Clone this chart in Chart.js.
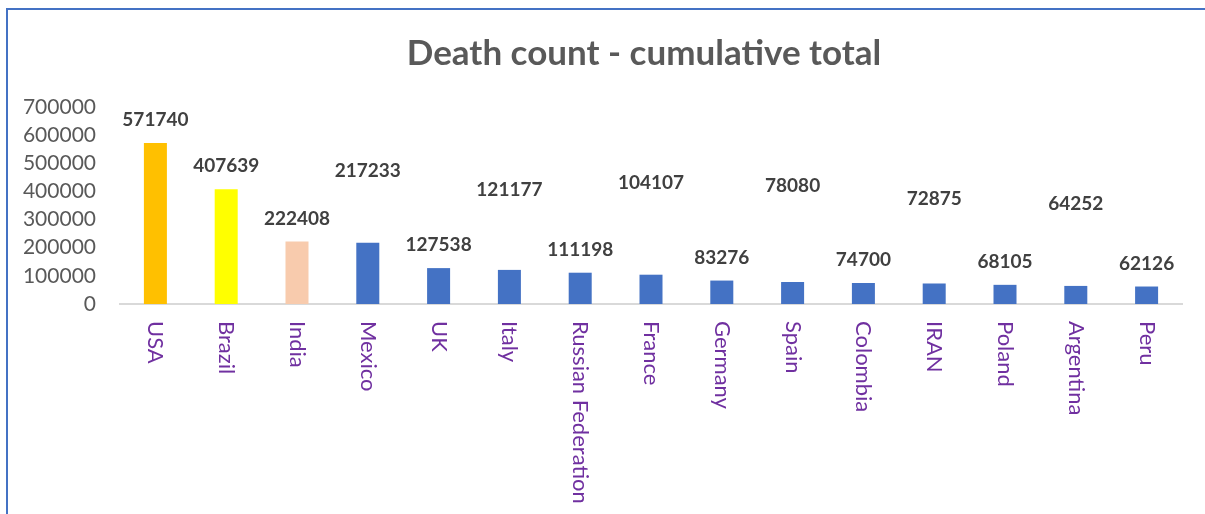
<!DOCTYPE html>
<html>
<head>
<meta charset="utf-8">
<script src="https://cdn.jsdelivr.net/npm/chart.js@4"></script>
<style>
  html, body { margin: 0; padding: 0; background: #fff; overflow: hidden; }
  #wrap { position: relative; width: 1205px; height: 514px; }
  #frame { position: absolute; left: 6px; top: 8px; width: 1300px; height: 600px;
           border-left: 2px solid #4472C4; border-top: 2px solid #4472C4; }
  canvas { position: absolute; left: 0; top: 0; }
</style>
</head>
<body>
<div id="wrap">
  <div id="frame"></div>
  <canvas id="chart" width="1205" height="514"></canvas>
</div>
<script>
// chart data
const countries = ['USA', 'Brazil', 'India', 'Mexico', 'UK', 'Italy', 'Russian Federation',
  'France', 'Germany', 'Spain', 'Colombia', 'IRAN', 'Poland', 'Argentina', 'Peru'];
const deaths = [571740, 407639, 222408, 217233, 127538, 121177, 111198,
  104107, 83276, 78080, 74700, 72875, 68105, 64252, 62126];
const yTicks = [0, 100000, 200000, 300000, 400000, 500000, 600000, 700000];

// styling
const barColors = countries.map((c, i) =>
  i === 0 ? '#FFC000' : i === 1 ? '#FFFF00' : i === 2 ? '#F8CBAD' : '#4472C4');
// extra lift (px) of some value labels, as placed in the original
const labelLift = [0, 0, 0, 49, 0, 57, 0, 69, 0, 73, 0, 62, 0, 59, 0];

const labelsPlugin = {
  id: 'customText',
  afterDraw(chart) {
    const ctx = chart.ctx;
    const area = chart.chartArea;
    const x = chart.scales.x;
    const meta = chart.getDatasetMeta(0);

    // title
    ctx.save();
    ctx.fillStyle = '#595959';
    ctx.font = 'bold 35px Lato';
    ctx.textAlign = 'center';
    ctx.textBaseline = 'middle';
    ctx.fillText('Death count - cumulative total', (area.left + area.right) / 2 - 7, 54);

    // value labels
    ctx.fillStyle = '#404040';
    ctx.font = 'bold 19px Lato';
    meta.data.forEach((bar, i) => {
      ctx.fillText(String(deaths[i]), bar.x, bar.y - 23 - labelLift[i]);
    });

    // category labels, rotated clockwise
    ctx.fillStyle = '#7030A0';
    ctx.font = '22px Lato';
    ctx.textAlign = 'left';
    countries.forEach((c, i) => {
      ctx.save();
      ctx.translate(x.getPixelForValue(i), area.bottom + 17);
      ctx.rotate(Math.PI / 2);
      ctx.fillText(c, 0, 0);
      ctx.restore();
    });
    ctx.restore();
  }
};

new Chart(document.getElementById('chart'), {
  type: 'bar',
  data: {
    labels: countries,
    datasets: [{
      data: deaths,
      backgroundColor: barColors,
      borderWidth: 0,
      barPercentage: 0.325,
      categoryPercentage: 1
    }]
  },
  options: {
    responsive: false,
    animation: false,
    layout: { padding: { top: 107, right: 23, bottom: 202, left: 0 } },
    plugins: {
      legend: { display: false },
      tooltip: { enabled: false },
      title: { display: false }
    },
    scales: {
      x: {
        grid: { display: false },
        border: { display: true, color: '#D9D9D9', width: 2 },
        ticks: { display: false }
      },
      y: {
        min: 0,
        max: 700000,
        afterBuildTicks: (s) => { s.ticks = yTicks.map(v => ({ value: v })); },
        afterFit: (s) => { s.width = 120; },
        grid: { display: false },
        border: { display: false },
        ticks: {
          autoSkip: false,
          color: '#595959',
          font: { family: 'Lato', size: 21 },
          padding: 16,
          callback: (v) => String(v)
        }
      }
    }
  },
  plugins: [labelsPlugin]
});
</script>
</body>
</html>
